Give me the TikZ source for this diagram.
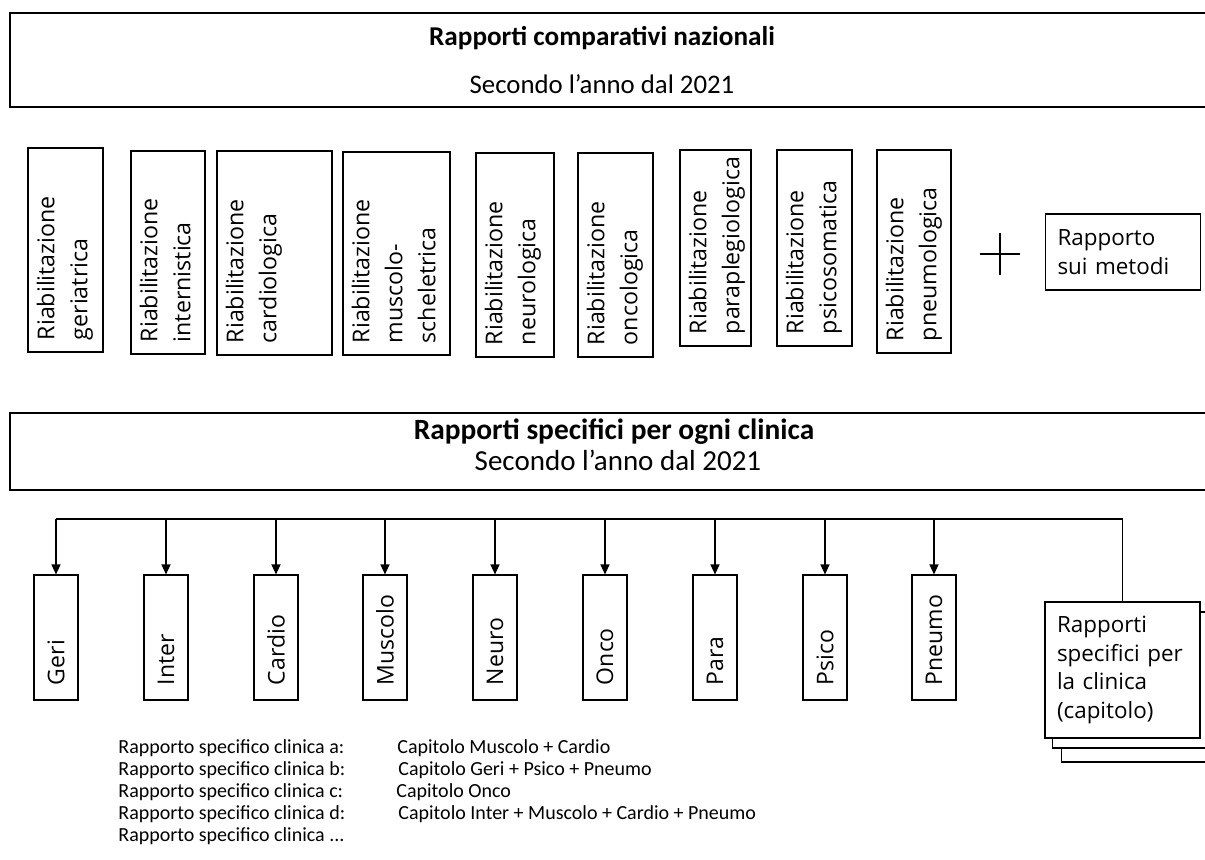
\documentclass[tikz,border=0pt]{standalone}
\usepackage{fontspec}
\setmainfont{Open Sans}
\newfontfamily\hdrfont{Carlito}
\usepackage{tikz}
\usetikzlibrary{arrows.meta}

\tikzset{
  header/.style={draw, line width=0.9pt, minimum width=602.5pt, inner sep=0pt},
  hdrtitle/.style={font=\hdrfont\bfseries\fontsize{13.6}{16}\selectfont},
  hdrsub/.style={font=\hdrfont\fontsize{13.4}{16}\selectfont},
  catbox/.style={draw, line width=0.55pt, inner sep=0pt},
  catlabel/.style={rotate=90, anchor=north west, align=left, inner xsep=6pt, inner ysep=4.5pt, font=\fontsize{11.6}{16.5}\selectfont},
  clinbox/.style={draw, line width=0.55pt, fill=white, rotate=90, text width=47.5pt, inner xsep=7.5pt, minimum height=22pt, align=left, font=\fontsize{11.5}{14}\selectfont},
  sidebox/.style={draw, line width=0.55pt, fill=white, text width=65.5pt, inner xsep=6pt, align=left, font=\fontsize{11.2}{14.2}\selectfont},
  layer/.style={draw, line width=0.55pt, fill=white, anchor=west, minimum width=85pt, minimum height=68pt},
  feed/.style={line width=0.6pt, -{Triangle[width=4.5pt,length=5pt]}},
  listtext/.style={anchor=west, inner sep=0pt, font=\hdrfont\fontsize{10}{11}\selectfont}
}

\begin{document}
\begin{tikzpicture}[x=0.5pt, y=-0.5pt]
\useasboundingbox (0,0) rectangle (1205,860);

% National comparative reports
\node[header, minimum height=47pt] (nat) at (612.5,60) {};
\node[hdrtitle] (natT) at (602,38) {Rapporti comparativi nazionali};
\node[hdrsub] (natS) at (602,84) {Secondo l’anno dal 2021};

% One box per rehabilitation type
\node[catbox, minimum width=37.5pt, minimum height=102pt] (rgeri) at (65.5,250) {};
\node[catlabel] (tgeri) at (rgeri.south west) {Riabilitazione\\geriatrica};
\node[catbox, minimum width=37pt, minimum height=101.5pt] (rinter) at (168,252.5) {};
\node[catlabel] (tinter) at (rinter.south west) {Riabilitazione\\internistica};
\node[catbox, minimum width=57.5pt, minimum height=102pt] (rcardio) at (274.5,253) {};
\node[catlabel] (tcardio) at (rcardio.south west) {Riabilitazione\\cardiologica};
\node[catbox, minimum width=53.5pt, minimum height=101.5pt] (rmuscolo) at (396.5,253.5) {};
\node[catlabel] (tmuscolo) at (rmuscolo.south west) {Riabilitazione\\muscolo-\\scheletrica};
\node[catbox, minimum width=39pt, minimum height=102pt] (rneuro) at (515,255) {};
\node[catlabel] (tneuro) at (rneuro.south west) {Riabilitazione\\neurologica};
\node[catbox, minimum width=37.5pt, minimum height=102pt] (ronco) at (615.5,255) {};
\node[catlabel] (tonco) at (ronco.south west) {Riabilitazione\\oncologica};
\node[catbox, minimum width=35.5pt, minimum height=98pt] (rpara) at (715.5,248) {};
\node[catlabel] (tpara) at (rpara.south west) {Riabilitazione\\paraplegiologica};
\node[catbox, minimum width=37.5pt, minimum height=98pt] (rpsico) at (814.5,248) {};
\node[catlabel] (tpsico) at (rpsico.south west) {Riabilitazione\\psicosomatica};
\node[catbox, minimum width=37pt, minimum height=101.5pt] (rpneumo) at (914,251.5) {};
\node[catlabel] (tpneumo) at (rpneumo.south west) {Riabilitazione\\pneumologica};

% Plus and methods report
\coordinate (plus) at (1000,254);
\draw[line width=0.55pt] ([xshift=-10pt]plus) -- ([xshift=10pt]plus)
  ([yshift=-10.5pt]plus) -- ([yshift=10.5pt]plus);
\node[sidebox, minimum height=38pt] (metodi) at (1123,252) {Rapporto\\sui metodi};

% Clinic specific reports
\node[header, minimum height=38.5pt] (cli) at (612.5,451.5) {};
\node[hdrtitle, font=\hdrfont\bfseries\fontsize{14.7}{17}\selectfont] (cliT) at (614,432) {Rapporti specifici per ogni clinica};
\node[hdrsub, font=\hdrfont\fontsize{14.5}{17}\selectfont] (cliS) at (618,460) {Secondo l’anno dal 2021};

% Chapters
\node[clinbox] (geri) at (56,637.5) {Geri};
\node[clinbox] (inter) at (166,637.5) {Inter};
\node[clinbox] (cardio) at (276,637.5) {Cardio};
\node[clinbox] (muscolo) at (385,637.5) {Muscolo};
\node[clinbox] (neuro) at (495,637.5) {Neuro};
\node[clinbox] (onco) at (605,637.5) {Onco};
\node[clinbox] (para) at (715,637.5) {Para};
\node[clinbox] (psico) at (825,637.5) {Psico};
\node[clinbox] (pneumo) at (934,637.5) {Pneumo};

% Stack of clinic reports
\node[layer] (stackC) at (1061,694) {};
\node[layer] (stackB) at (1051.5,680) {};
\node[sidebox, minimum height=68pt] (stackA) at (1122.5,670) {Rapporti\\specifici per\\la clinica\\(capitolo)};

% Distribution line
\coordinate (bus) at (0,519);
\draw[line width=0.55pt] (geri |- bus) -- (stackA |- bus) -- (stackA);
\draw[feed] (geri |- bus) -- (geri);
\draw[feed] (inter |- bus) -- (inter);
\draw[feed] (cardio |- bus) -- (cardio);
\draw[feed] (muscolo |- bus) -- (muscolo);
\draw[feed] (neuro |- bus) -- (neuro);
\draw[feed] (onco |- bus) -- (onco);
\draw[feed] (para |- bus) -- (para);
\draw[feed] (psico |- bus) -- (psico);
\draw[feed] (pneumo |- bus) -- (pneumo);

% Examples
\node[listtext] (la) at (118,748) {Rapporto specifico clinica a:};
\node[listtext] (ca) at (397,748) {Capitolo Muscolo + Cardio};
\node[listtext] (lb) at (118,770) {Rapporto specifico clinica b:};
\node[listtext] (cb) at (398,770) {Capitolo Geri + Psico + Pneumo};
\node[listtext] (lc) at (118,792) {Rapporto specifico clinica c:};
\node[listtext] (cc) at (396,792) {Capitolo Onco};
\node[listtext] (ld) at (118,814) {Rapporto specifico clinica d:};
\node[listtext] (cd) at (398,814) {Capitolo Inter + Muscolo + Cardio + Pneumo};
\node[listtext] (le) at (118,836) {Rapporto specifico clinica ...};
\end{tikzpicture}
\end{document}
